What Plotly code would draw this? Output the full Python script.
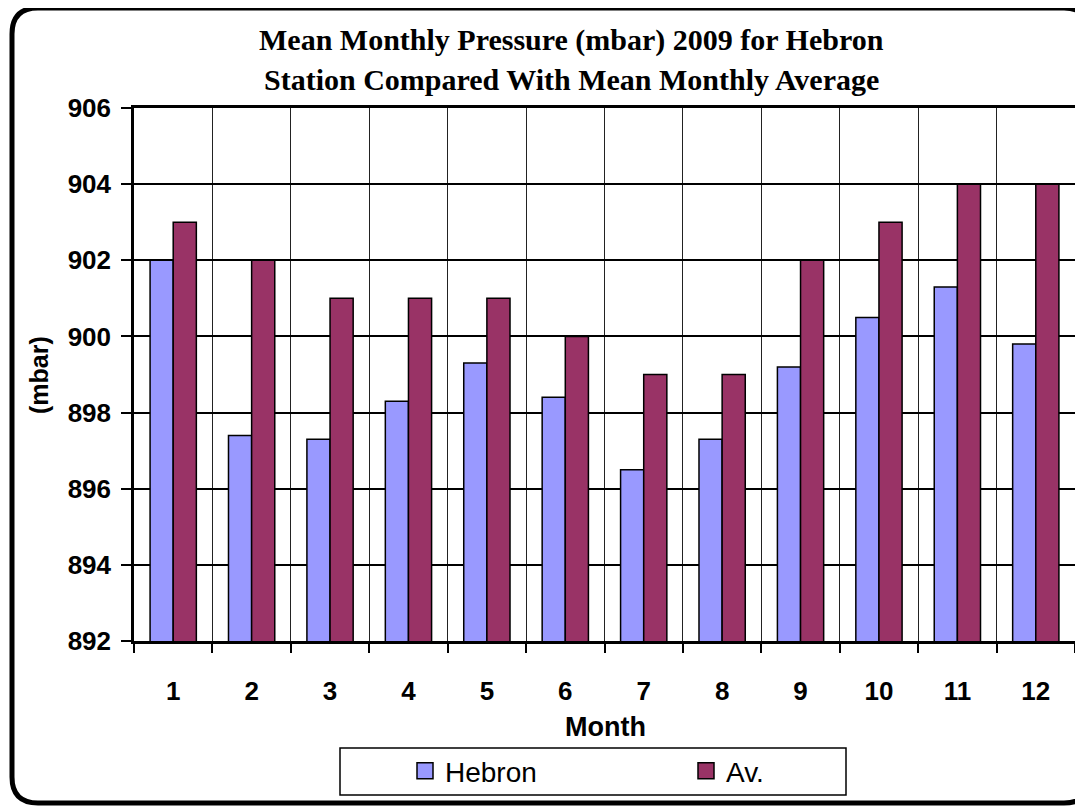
import plotly.graph_objects as go

months = ["1", "2", "3", "4", "5", "6", "7", "8", "9", "10", "11", "12"]
hebron = [902.0, 897.4, 897.3, 898.3, 899.3, 898.4, 896.5, 897.3, 899.2, 900.5, 901.3, 899.8]
average = [903, 902, 901, 901, 901, 900, 899, 899, 902, 903, 904, 904]
y_ticks = [892, 894, 896, 898, 900, 902, 904, 906]

title_lines = ["Mean Monthly Pressure (mbar) 2009 for Hebron",
               "Station Compared With Mean Monthly Average"]

hebron_color = "#9999FF"
average_color = "#993366"

# plot area in screen pixels (page body has an 8px margin)
L, R, T, B = 134, 1075, 108, 641
W, H = R - L, B - T
OFF = 8


def X(p):
    return (p - L) / W


def Y(p):
    return (B - p) / H


sans = "Liberation Sans, Arial, sans-serif"
serif = "Liberation Serif, Times New Roman, serif"

fig = go.Figure()
fig.add_trace(go.Bar(x=months, y=hebron, name="Hebron", showlegend=False,
                     marker=dict(color=hebron_color, line=dict(color="black", width=1.5))))
fig.add_trace(go.Bar(x=months, y=average, name="Av.", showlegend=False,
                     marker=dict(color=average_color, line=dict(color="black", width=1.5))))
# legend entries with bigger square keys
for name, col in [("Hebron", hebron_color), ("Av.", average_color)]:
    fig.add_trace(go.Scatter(x=[None], y=[None], mode="markers", name=name,
                             marker=dict(symbol="square", size=16, color=col,
                                         line=dict(color="black", width=1.5))))

# rounded outer frame
left, right, top, bottom, r = 12, 1090, 8, 803, 26
frame = (f"M {X(left + r)},{Y(top)} L {X(right - r)},{Y(top)} "
         f"Q {X(right)},{Y(top)} {X(right)},{Y(top + r)} L {X(right)},{Y(bottom - r)} "
         f"Q {X(right)},{Y(bottom)} {X(right - r)},{Y(bottom)} L {X(left + r)},{Y(bottom)} "
         f"Q {X(left)},{Y(bottom)} {X(left)},{Y(bottom - r)} L {X(left)},{Y(top + r)} "
         f"Q {X(left)},{Y(top)} {X(left + r)},{Y(top)} Z")

shapes = [
    dict(type="path", xref="paper", yref="paper", path=frame,
         line=dict(color="black", width=5)),
    dict(type="rect", xref="paper", yref="paper",
         x0=X(340), x1=X(846), y0=Y(748), y1=Y(795),
         line=dict(color="black", width=1.5)),
]


def label(text, x, y, size, family, angle=0):
    return dict(text=text, x=X(x), y=Y(y), xref="paper", yref="paper",
                xanchor="center", yanchor="middle", showarrow=False, textangle=angle,
                font=dict(family=family, size=size, color="black"))


annotations = [
    label(f"<b>{title_lines[0]}</b>", 571, 40, 30, serif),
    label(f"<b>{title_lines[1]}</b>", 571, 79, 30, serif),
    label("<b>Month</b>", 605, 727, 27, sans),
    label("<b>(mbar)</b>", 39, 375, 25, sans, -90),
]

fig.update_layout(
    width=1083, height=807,
    margin=dict(l=L - OFF, r=1083 - (R - OFF), t=T - OFF, b=807 - (B - OFF)),
    paper_bgcolor="white", plot_bgcolor="white",
    barmode="group", bargap=0.41, bargroupgap=0,
    shapes=shapes, annotations=annotations,
    legend=dict(orientation="h", x=X(405), xanchor="left", y=Y(771), yanchor="middle",
                entrywidth=236, entrywidthmode="pixels",
                font=dict(family=sans, size=28, color="black"),
                bgcolor="rgba(0,0,0,0)", borderwidth=0),
)
fig.update_xaxes(
    type="category", tickson="boundaries", ticks="outside", ticklen=9,
    tickwidth=1.5, tickcolor="black", ticklabelstandoff=25,
    showgrid=True, gridcolor="#222222", gridwidth=1.3,
    showline=True, linecolor="black", linewidth=2.5, mirror=True,
    tickfont=dict(family=sans, size=26, color="black", weight="bold"),
)
fig.update_yaxes(
    range=[892, 906], tickvals=y_ticks, ticks="outside", ticklen=10,
    tickwidth=1.5, tickcolor="black", ticklabelstandoff=5,
    showgrid=True, gridcolor="black", gridwidth=1.5, zeroline=False,
    showline=True, linecolor="black", linewidth=2.5, mirror=True,
    tickfont=dict(family=sans, size=26, color="black", weight="bold"),
)

fig.write_html("out.html")
